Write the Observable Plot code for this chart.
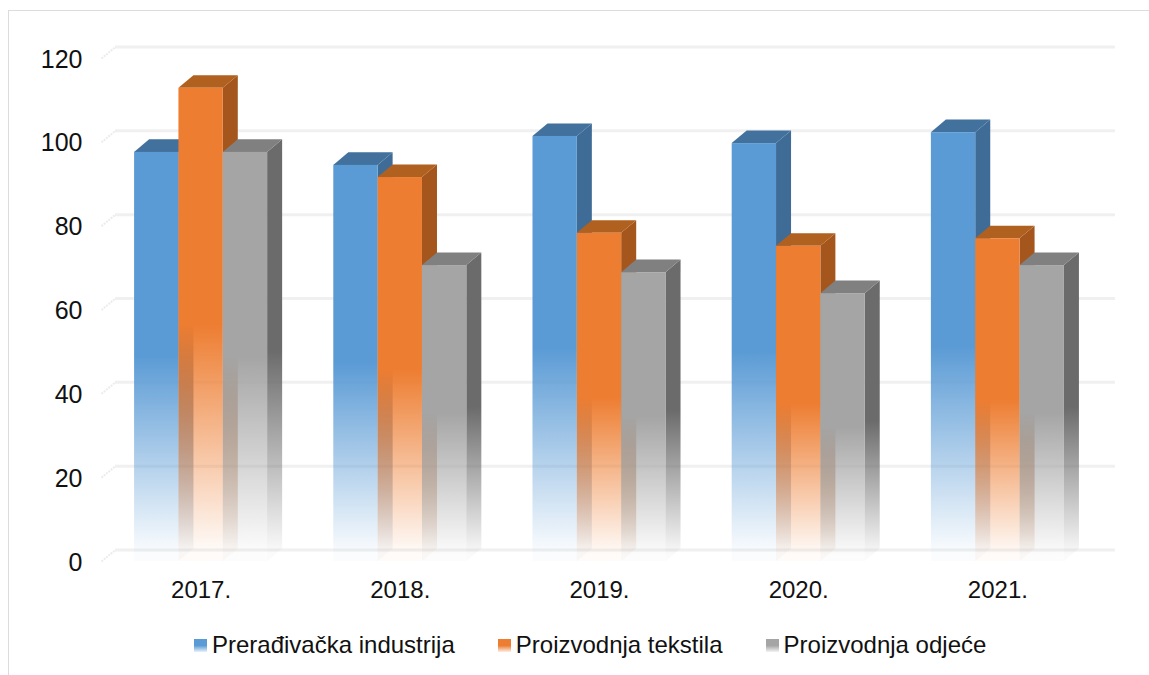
<!DOCTYPE html>
<html>
<head>
<meta charset="utf-8">
<script src="https://cdn.jsdelivr.net/npm/d3@7"></script>
<script src="https://cdn.jsdelivr.net/npm/@observablehq/plot@0.6"></script>
<style>
html,body{margin:0;padding:0;background:#fff;overflow:hidden}
body{width:1149px;height:675px;position:relative;font-family:"Liberation Sans",Arial,sans-serif;color:#111}
#frame{position:absolute;left:8px;top:10px;right:0;bottom:0;border-left:1.5px solid #dcdcdc;border-top:1.5px solid #dcdcdc;pointer-events:none}
#chart svg{display:block}
#legend{display:flex;justify-content:flex-start;align-items:center;gap:43px;height:40px;padding-left:194px;font-size:24px;white-space:nowrap}
#legend span.item{display:flex;align-items:center;gap:5px}
#legend i{display:block;width:13px;height:13px}
</style>
</head>
<body>
<div id="frame"></div>
<div id="chart"></div>
<div id="legend"></div>
<script>
const years = ["2017.", "2018.", "2019.", "2020.", "2021."];
const seriesNames = ["Prerađivačka industrija", "Proizvodnja tekstila", "Proizvodnja odjeće"];
const preradjivacka = [97.6, 94.5, 101.4, 99.7, 102.3];
const tekstil = [112.9, 91.6, 78.3, 75.2, 77.0];
const odjeca = [97.6, 70.6, 68.9, 63.9, 70.6];
const yTicks = [0, 20, 40, 60, 80, 100, 120];
const frontColors = ["#5b9bd5", "#ed7d31", "#a5a5a5"];
const sideColors = ["#3f6c97", "#a5561d", "#6b6b6b"];
const topColors = ["#41719c", "#b0601f", "#808080"];

const seriesValues = [preradjivacka, tekstil, odjeca];
const barW = 0.2226, depthX = 0.0754, depthY = 3.0, wallDepth = 2.74;

function gradient(defs, id, color) {
  const g = defs.append("linearGradient").attr("id", id).attr("x1", 0).attr("y1", 0).attr("x2", 0).attr("y2", 1);
  g.append("stop").attr("offset", "50%").attr("stop-color", color).attr("stop-opacity", 1);
  g.append("stop").attr("offset", "98%").attr("stop-color", color).attr("stop-opacity", 0.03);
}
const defsMark = () => {
  const defs = d3.create("svg:defs");
  frontColors.forEach((c, i) => gradient(defs, "front" + i, c));
  sideColors.forEach((c, i) => gradient(defs, "side" + i, c));
  return defs.node();
};

const barMarks = seriesValues.flatMap((vals, s) => {
  const bars = vals.map((v, i) => {
    const x1 = i - 1.5 * barW + s * barW;
    return {key: i, v, x1, x2: x1 + barW};
  });
  const side = bars.flatMap(b => [
    {key: b.key, x: b.x2, y1: 0, y2: b.v},
    {key: b.key, x: b.x2 + depthX, y1: depthY, y2: b.v + depthY}
  ]);
  const top = bars.flatMap(b => [
    {key: b.key, x: b.x1, y1: b.v, y2: b.v},
    {key: b.key, x: b.x1 + depthX, y1: b.v, y2: b.v + depthY},
    {key: b.key, x: b.x2, y1: b.v, y2: b.v + depthY},
    {key: b.key, x: b.x2 + depthX, y1: b.v + depthY, y2: b.v + depthY}
  ]);
  return [
    Plot.areaY(side, {x: "x", y1: "y1", y2: "y2", z: "key", fill: `url(#side${s})`}),
    Plot.areaY(top, {x: "x", y1: "y1", y2: "y2", z: "key", fill: topColors[s]}),
    Plot.rect(bars, {x1: "x1", x2: "x2", y1: 0, y2: "v", fill: `url(#front${s})`})
  ];
});

const plot = Plot.plot({
  width: 1149,
  height: 625,
  marginLeft: 101,
  marginRight: 52,
  marginTop: 58,
  marginBottom: 64,
  style: {fontFamily: "'Liberation Sans', Arial, sans-serif", background: "transparent", color: "#111"},
  x: {type: "linear", domain: [-0.5, 4.5]},
  y: {domain: [0, 120]},
  marks: [
    defsMark,
    Plot.ruleY(yTicks, {y: d => d + wallDepth, x1: -0.43, x2: 4.59, stroke: "#f0f0f0", strokeWidth: 3}),
    Plot.link(yTicks, {x1: -0.5, y1: d => d, x2: -0.43, y2: d => d + wallDepth, stroke: "#ececec", strokeWidth: 2, strokeDasharray: "2 1"}),
    ...barMarks,
    Plot.axisY(yTicks, {tickSize: 0, tickPadding: 19, fontSize: 25, dy: 1, label: null, fill: "#111"}),
    Plot.axisX(d3.range(years.length), {tickSize: 0, tickPadding: 19, fontSize: 24, label: null, fill: "#111", tickFormat: i => years[i]})
  ]
});
document.getElementById("chart").append(plot);

const legend = d3.select("#legend");
seriesNames.forEach((name, i) => {
  const item = legend.append("span").attr("class", "item");
  item.append("i").style("background", `linear-gradient(${frontColors[i]} 50%, ${frontColors[i]}22 100%)`);
  item.append("span").text(name);
});
</script>
</body>
</html>
